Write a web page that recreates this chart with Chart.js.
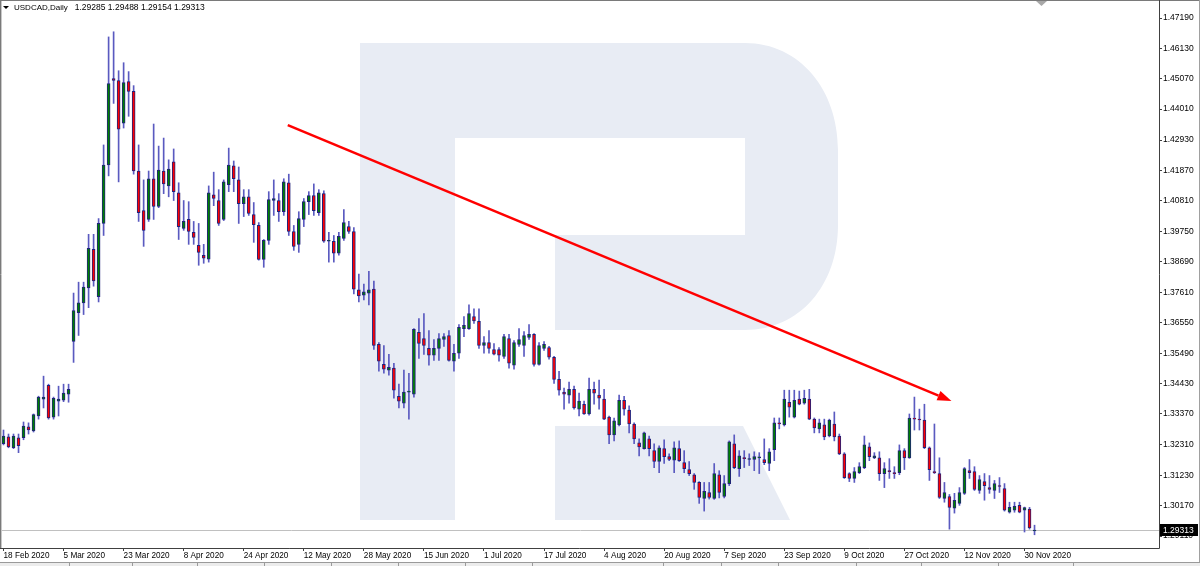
<!DOCTYPE html>
<html>
<head>
<meta charset="utf-8">
<title>USDCAD, Daily</title>
<script src="https://cdn.jsdelivr.net/npm/chart.js@4.4.0/dist/chart.umd.min.js"></script>
<style>
  html, body { margin: 0; padding: 0; background: #fff; }
  #wrap { position: relative; width: 1200px; height: 566px; overflow: hidden; }
</style>
</head>
<body>
<div id="wrap"><canvas id="chart" width="1200" height="566"></canvas></div>
<script>
// ---- data (daily candles, one per weekday from 18 Feb 2020) ----
const firstDay = [2020, 1, 18];

const opens = [
  1.3233, 1.3257, 1.3219, 1.3254, 1.3254, 1.3292, 1.3278, 1.3330, 1.3389, 1.3437,
  1.3326, 1.3382, 1.3385, 1.3406, 1.3590, 1.3691, 1.3725, 1.3777, 1.3912, 1.3746,
  1.4002, 1.4206, 1.4508, 1.4501, 1.4352, 1.4497, 1.4463, 1.4185, 1.4047, 1.4016,
  1.4158, 1.4061, 1.4185, 1.4133, 1.4217, 1.4109, 1.3985, 1.4016, 1.3971, 1.3926,
  1.3891, 1.3877, 1.4102, 1.4082, 1.4016, 1.4137, 1.4203, 1.4154, 1.4071, 1.4095,
  1.4033, 1.3995, 1.3876, 1.3943, 1.4082, 1.4082, 1.4043, 1.4144, 1.3974, 1.3929,
  1.4016, 1.4078, 1.4099, 1.4040, 1.4106, 1.3940, 1.3940, 1.3898, 1.3950, 1.3991,
  1.3974, 1.3770, 1.3752, 1.3759, 1.3773, 1.3580, 1.3510, 1.3490, 1.3497, 1.3399,
  1.3375, 1.3413, 1.3406, 1.3622, 1.3600, 1.3566, 1.3542, 1.3566, 1.3597, 1.3611,
  1.3521, 1.3549, 1.3635, 1.3635, 1.3677, 1.3660, 1.3576, 1.3586, 1.3562, 1.3562,
  1.3538, 1.3600, 1.3507, 1.3580, 1.3576, 1.3604, 1.3615, 1.3510, 1.3566, 1.3569,
  1.3535, 1.3458, 1.3413, 1.3403, 1.3423, 1.3354, 1.3371, 1.3337, 1.3423, 1.3403,
  1.3389, 1.3326, 1.3264, 1.3299, 1.3385, 1.3351, 1.3302, 1.3236, 1.3216, 1.3250,
  1.3209, 1.3171, 1.3216, 1.3188, 1.3176, 1.3216, 1.3167, 1.3143, 1.3125, 1.3098,
  1.3042, 1.3063, 1.3042, 1.3125, 1.3049, 1.3094, 1.3233, 1.3146, 1.3184, 1.3178,
  1.3178, 1.3184, 1.3178, 1.3164, 1.3212, 1.3306, 1.3299, 1.3378, 1.3326, 1.3389,
  1.3375, 1.3389, 1.3319, 1.3285, 1.3299, 1.3260, 1.3302, 1.3260, 1.3198, 1.3129,
  1.3112, 1.3132, 1.3150, 1.3222, 1.3184, 1.3184, 1.3129, 1.3139, 1.3132, 1.3132,
  1.3209, 1.3184, 1.3323, 1.3319, 1.3316, 1.3219, 1.3136, 1.3129, 1.3042, 1.3049,
  1.3008, 1.3025, 1.3060, 1.3139, 1.3136, 1.3070, 1.3101, 1.3080, 1.3070, 1.3087,
  1.3077, 1.2994, 1.3001, 1.3018, 1.3001, 1.3005, 1.29285
];
const highs = [
  1.3281, 1.3267, 1.3267, 1.3267, 1.3309, 1.3306, 1.3337, 1.3399, 1.3469, 1.3441,
  1.3396, 1.3434, 1.3441, 1.3441, 1.3759, 1.3797, 1.3797, 1.3964, 1.3964, 1.4019,
  1.4276, 1.4653, 1.4671, 1.4535, 1.4563, 1.4532, 1.4483, 1.4276, 1.4154, 1.4185,
  1.4349, 1.4272, 1.4300, 1.4224, 1.4262, 1.4144, 1.4082, 1.4078, 1.4009, 1.4002,
  1.3929, 1.4133, 1.4181, 1.4120, 1.4154, 1.4265, 1.4220, 1.4199, 1.4120, 1.4120,
  1.4075, 1.4005, 1.3946, 1.4113, 1.4154, 1.4106, 1.4158, 1.4174, 1.3995, 1.4043,
  1.4089, 1.4113, 1.4140, 1.4120, 1.4116, 1.3971, 1.3960, 1.3971, 1.4050, 1.4009,
  1.3988, 1.3825, 1.3790, 1.3835, 1.3801, 1.3586, 1.3576, 1.3545, 1.3514, 1.3441,
  1.3490, 1.3479, 1.3635, 1.3670, 1.3687, 1.3628, 1.3597, 1.3618, 1.3618, 1.3628,
  1.3580, 1.3649, 1.3677, 1.3718, 1.3704, 1.3704, 1.3607, 1.3628, 1.3583, 1.3569,
  1.3615, 1.3615, 1.3593, 1.3635, 1.3625, 1.3649, 1.3618, 1.3586, 1.3590, 1.3573,
  1.3538, 1.3486, 1.3427, 1.3448, 1.3434, 1.3410, 1.3382, 1.3462, 1.3448, 1.3455,
  1.3423, 1.3330, 1.3323, 1.3403, 1.3399, 1.3365, 1.3306, 1.3250, 1.3274, 1.3260,
  1.3233, 1.3226, 1.3247, 1.3198, 1.3240, 1.3243, 1.3209, 1.3171, 1.3129, 1.3101,
  1.3098, 1.3098, 1.3164, 1.3139, 1.3122, 1.3243, 1.3264, 1.3209, 1.3209, 1.3198,
  1.3205, 1.3202, 1.3250, 1.3216, 1.3323, 1.3323, 1.3420, 1.3420, 1.3420, 1.3417,
  1.3420, 1.3423, 1.3323, 1.3319, 1.3319, 1.3319, 1.3344, 1.3267, 1.3202, 1.3132,
  1.3150, 1.3167, 1.3260, 1.3236, 1.3202, 1.3205, 1.3167, 1.3181, 1.3153, 1.3229,
  1.3216, 1.3337, 1.3396, 1.3354, 1.3371, 1.3222, 1.3302, 1.3184, 1.3098, 1.3056,
  1.3060, 1.3080, 1.3150, 1.3178, 1.3153, 1.3122, 1.3129, 1.3122, 1.3105, 1.3115,
  1.3094, 1.3029, 1.3029, 1.3029, 1.3012, 1.3011, 1.29488
];
const lows = [
  1.3229, 1.3219, 1.3216, 1.3202, 1.3247, 1.3267, 1.3274, 1.3319, 1.3358, 1.3319,
  1.3319, 1.3330, 1.3380, 1.3378, 1.3517, 1.3611, 1.3684, 1.3708, 1.3783, 1.3728,
  1.3960, 1.4168, 1.4421, 1.4147, 1.4335, 1.4376, 1.4174, 1.4009, 1.3922, 1.4009,
  1.4016, 1.4057, 1.4106, 1.4095, 1.4082, 1.3946, 1.3978, 1.3929, 1.3929, 1.3856,
  1.3863, 1.3867, 1.4064, 1.3995, 1.4012, 1.4113, 1.4113, 1.4002, 1.4026, 1.4030,
  1.3936, 1.3874, 1.3849, 1.3929, 1.4030, 1.4009, 1.4030, 1.3960, 1.3908, 1.3901,
  1.3991, 1.4033, 1.4030, 1.4030, 1.3936, 1.3867, 1.3867, 1.3891, 1.3943, 1.3967,
  1.3756, 1.3728, 1.3735, 1.3718, 1.3562, 1.3486, 1.3479, 1.3472, 1.3392, 1.3358,
  1.3358, 1.3319, 1.3396, 1.3531, 1.3545, 1.3507, 1.3524, 1.3524, 1.3573, 1.3521,
  1.3486, 1.3531, 1.3607, 1.3632, 1.3653, 1.3566, 1.3549, 1.3549, 1.3543, 1.3521,
  1.3531, 1.3497, 1.3493, 1.3573, 1.3538, 1.3597, 1.3504, 1.3507, 1.3559, 1.3528,
  1.3444, 1.3403, 1.3354, 1.3375, 1.3354, 1.3330, 1.3335, 1.3333, 1.3371, 1.3354,
  1.3317, 1.3233, 1.3243, 1.3295, 1.3333, 1.3271, 1.3233, 1.3191, 1.3214, 1.3191,
  1.3150, 1.3132, 1.3164, 1.3174, 1.3132, 1.3171, 1.3132, 1.3122, 1.3074, 1.3025,
  1.2998, 1.3040, 1.3039, 1.3044, 1.3044, 1.3087, 1.3146, 1.3119, 1.3150, 1.3157,
  1.3139, 1.3129, 1.3160, 1.3139, 1.3174, 1.3285, 1.3295, 1.3326, 1.3323, 1.3369,
  1.3371, 1.3317, 1.3271, 1.3271, 1.3247, 1.3257, 1.3243, 1.3195, 1.3112, 1.3101,
  1.3098, 1.3129, 1.3146, 1.3174, 1.3181, 1.3105, 1.3080, 1.3112, 1.3112, 1.3125,
  1.3143, 1.3182, 1.3281, 1.3281, 1.3216, 1.3105, 1.3129, 1.3042, 1.3029, 1.2935,
  1.2991, 1.3018, 1.3056, 1.3112, 1.3070, 1.3060, 1.3036, 1.3060, 1.3042, 1.3063,
  1.2998, 1.2991, 1.2994, 1.2992, 1.2925, 1.2935, 1.29154
];
const closes = [
  1.3260, 1.3222, 1.3260, 1.3226, 1.3295, 1.3281, 1.3335, 1.3396, 1.3396, 1.3323,
  1.3392, 1.3389, 1.3410, 1.3423, 1.3698, 1.3725, 1.3780, 1.3915, 1.3801, 1.4002,
  1.4206, 1.4490, 1.4501, 1.4331, 1.4494, 1.4463, 1.4185, 1.4040, 1.3978, 1.4158,
  1.4061, 1.4188, 1.4140, 1.4192, 1.4113, 1.3991, 1.4009, 1.3974, 1.3953, 1.3901,
  1.3881, 1.4109, 1.4089, 1.4002, 1.4147, 1.4206, 1.4158, 1.4071, 1.4095, 1.4037,
  1.3998, 1.3876, 1.3943, 1.4085, 1.4089, 1.4043, 1.4147, 1.3974, 1.3922, 1.4019,
  1.4078, 1.4099, 1.4047, 1.4109, 1.3940, 1.3943, 1.3898, 1.3957, 1.4005, 1.3974,
  1.3773, 1.3749, 1.3763, 1.3770, 1.3576, 1.3521, 1.3493, 1.3500, 1.3420, 1.3382,
  1.3413, 1.3417, 1.3632, 1.3583, 1.3576, 1.3542, 1.3566, 1.3600, 1.3607, 1.3524,
  1.3549, 1.3639, 1.3646, 1.3687, 1.3662, 1.3576, 1.3586, 1.3566, 1.3546, 1.3542,
  1.3607, 1.3514, 1.3586, 1.3597, 1.3611, 1.3615, 1.3510, 1.3576, 1.3580, 1.3535,
  1.3458, 1.3420, 1.3406, 1.3423, 1.3358, 1.3382, 1.3337, 1.3423, 1.3410, 1.3392,
  1.3319, 1.3264, 1.3313, 1.3385, 1.3354, 1.3302, 1.3250, 1.3222, 1.3271, 1.3216,
  1.3171, 1.3219, 1.3188, 1.3178, 1.3219, 1.3174, 1.3146, 1.3129, 1.3098, 1.3046,
  1.3067, 1.3046, 1.3129, 1.3063, 1.3094, 1.3240, 1.3150, 1.3191, 1.3181, 1.3181,
  1.3188, 1.3186, 1.3167, 1.3205, 1.3306, 1.3302, 1.3389, 1.3361, 1.3385, 1.3371,
  1.3392, 1.3319, 1.3288, 1.3306, 1.3257, 1.3316, 1.3257, 1.3198, 1.3115, 1.3112,
  1.3136, 1.3153, 1.3229, 1.3188, 1.3191, 1.3129, 1.3146, 1.3136, 1.3129, 1.3209,
  1.3184, 1.3323, 1.3319, 1.3316, 1.3219, 1.3143, 1.3132, 1.3046, 1.3063, 1.3011,
  1.3036, 1.3063, 1.3146, 1.3132, 1.3074, 1.3108, 1.3087, 1.3074, 1.3094, 1.3084,
  1.3001, 1.3011, 1.3015, 1.2994, 1.3010, 1.2939, 1.29313
];

// price scale labels on the right
const priceTicks = [
  1.47190, 1.46130, 1.45070, 1.44010, 1.42930, 1.41870, 1.40810, 1.39750, 1.38690,
  1.37610, 1.36550, 1.35490, 1.34430, 1.33370, 1.32310, 1.31230, 1.30170, 1.29110
];
// a date label every 12 bars
const dateTickBars = [0, 12, 24, 36, 48, 60, 72, 84, 96, 108, 120, 132, 144, 156, 168, 180, 192, 204];

// hand-drawn trend arrow: [bar, price] start and end
const trendFrom = [56.8, 1.4345];
const trendTo = [189.4, 1.3382];

const symbolName = "USDCAD,Daily";

// ---- build dates (weekdays only) ----
const monthNames = ["Jan", "Feb", "Mar", "Apr", "May", "Jun", "Jul", "Aug", "Sep", "Oct", "Nov", "Dec"];
const dates = [];
const day = new Date(Date.UTC(firstDay[0], firstDay[1], firstDay[2]));
while (dates.length < opens.length) {
  const wd = day.getUTCDay();
  if (wd !== 0 && wd !== 6) {
    dates.push(day.getUTCDate() + " " + monthNames[day.getUTCMonth()] + " " + day.getUTCFullYear());
  }
  day.setUTCDate(day.getUTCDate() + 1);
}

const bodyData = opens.map((o, i) => ({ x: i, y: [o, closes[i]] }));
const wickData = opens.map((o, i) => ({ x: i, y: [lows[i], highs[i]] }));
const bodyColors = opens.map((o, i) => (closes[i] > o ? "#008000" : "#ff0000"));

const last = opens.length - 1;
const fmt = v => v.toFixed(5);
const fontFamily = "Liberation Sans, Arial, sans-serif";
const axisFont = { family: fontFamily, size: 8.5 };

// ---- extras drawn on the canvas (watermark, price line, arrow, frame) ----
const chartDecor = {
  id: "chartDecor",
  beforeDatasetsDraw(chart) {
    const { ctx, chartArea: a, scales } = chart;
    ctx.save();
    ctx.beginPath();
    ctx.rect(a.left, a.top, a.right - a.left, a.bottom - a.top);
    ctx.clip();

    // watermark "R"
    ctx.fillStyle = "#e8ecf4";
    ctx.fillRect(360, 43, 95, 477);
    ctx.beginPath();
    ctx.moveTo(455, 43);
    ctx.lineTo(745, 43);
    ctx.bezierCurveTo(800, 43, 838, 90, 838, 150);
    ctx.lineTo(838, 225);
    ctx.bezierCurveTo(838, 285, 800, 330, 745, 330);
    ctx.lineTo(555, 330);
    ctx.lineTo(555, 235);
    ctx.lineTo(745, 235);
    ctx.lineTo(745, 138);
    ctx.lineTo(455, 138);
    ctx.closePath();
    ctx.fill();
    ctx.beginPath();
    ctx.moveTo(555, 426);
    ctx.lineTo(743, 426);
    ctx.lineTo(790, 520);
    ctx.lineTo(555, 520);
    ctx.closePath();
    ctx.fill();

    // current price line
    const py = Math.round(scales.y.getPixelForValue(closes[last])) + 0.5;
    ctx.strokeStyle = "#c0c0c0";
    ctx.lineWidth = 1;
    ctx.beginPath();
    ctx.moveTo(a.left, py);
    ctx.lineTo(a.right, py);
    ctx.stroke();
    ctx.restore();
  },
  afterDatasetsDraw(chart) {
    const { ctx, scales } = chart;
    const x = scales.x, y = scales.y;

    // trend arrow
    const x1 = x.getPixelForValue(trendFrom[0]), y1 = y.getPixelForValue(trendFrom[1]);
    const x2 = x.getPixelForValue(trendTo[0]), y2 = y.getPixelForValue(trendTo[1]);
    const ang = Math.atan2(y2 - y1, x2 - x1);
    const head = 14, half = 5;
    const bx = x2 - head * Math.cos(ang), by = y2 - head * Math.sin(ang);
    ctx.save();
    ctx.strokeStyle = "#ff0000";
    ctx.fillStyle = "#ff0000";
    ctx.lineWidth = 2.5;
    ctx.beginPath();
    ctx.moveTo(x1, y1);
    ctx.lineTo(bx, by);
    ctx.stroke();
    ctx.beginPath();
    ctx.moveTo(x2, y2);
    ctx.lineTo(bx + half * Math.sin(ang), by - half * Math.cos(ang));
    ctx.lineTo(bx - half * Math.sin(ang), by + half * Math.cos(ang));
    ctx.closePath();
    ctx.fill();
    ctx.restore();
  },
  afterDraw(chart) {
    const { ctx, chartArea: a, scales } = chart;
    ctx.save();

    // frame
    ctx.strokeStyle = "#7a7a7a";
    ctx.lineWidth = 1;
    ctx.beginPath();
    ctx.moveTo(0.5, 0);
    ctx.lineTo(0.5, a.bottom + 0.5);
    ctx.moveTo(0, 0.5);
    ctx.lineTo(1200, 0.5);
    ctx.stroke();
    ctx.strokeStyle = "#c8c8c8";
    ctx.beginPath();
    ctx.moveTo(1.5, 1);
    ctx.lineTo(1.5, a.bottom);
    ctx.stroke();
    ctx.strokeStyle = "#404040";
    ctx.beginPath();
    ctx.moveTo(a.right + 0.5, 0);
    ctx.lineTo(a.right + 0.5, a.bottom + 0.5);
    ctx.lineTo(0, a.bottom + 0.5);
    ctx.stroke();
    ctx.strokeStyle = "#a0a0a0";
    ctx.beginPath();
    ctx.moveTo(1199.5, 0);
    ctx.lineTo(1199.5, 566);
    ctx.stroke();

    // tab strip at the very bottom
    ctx.fillStyle = "#ececec";
    ctx.fillRect(0, 563, 1200, 3);
    ctx.strokeStyle = "#9a9a9a";
    ctx.beginPath();
    ctx.moveTo(0, 562.5);
    ctx.lineTo(1200, 562.5);
    [69, 132, 197, 264, 331, 398, 465, 532, 663, 721, 778, 856, 921, 998, 1073].forEach(sx => {
      ctx.moveTo(sx + 0.5, 563);
      ctx.lineTo(sx + 0.5, 566);
    });
    ctx.stroke();

    // chart shift marker
    ctx.fillStyle = "#a8a8a8";
    ctx.beginPath();
    ctx.moveTo(1036, 1);
    ctx.lineTo(1047, 1);
    ctx.lineTo(1041.5, 6);
    ctx.closePath();
    ctx.fill();

    // current price box on the scale
    const py = Math.round(scales.y.getPixelForValue(closes[last]));
    ctx.fillStyle = "#000";
    ctx.fillRect(a.right + 1, py - 6, 38, 12);
    ctx.fillStyle = "#fff";
    ctx.font = "8.5px " + fontFamily;
    ctx.textBaseline = "middle";
    ctx.textAlign = "left";
    ctx.fillText(fmt(closes[last]), a.right + 4, py + 0.5);

    // header: symbol and last bar OHLC
    ctx.fillStyle = "#000";
    ctx.beginPath();
    ctx.moveTo(3, 6);
    ctx.lineTo(9, 6);
    ctx.lineTo(6, 9);
    ctx.closePath();
    ctx.fill();
    ctx.font = "8px " + fontFamily;
    ctx.fillText(symbolName, 14, 8);
    const nx = 14 + ctx.measureText(symbolName).width + 7;
    ctx.font = "8.5px " + fontFamily;
    ctx.fillText([opens[last], highs[last], lows[last], closes[last]].map(fmt).join(" "), nx, 8);
    ctx.restore();
  },
};

new Chart(document.getElementById("chart"), {
  type: "bar",
  data: {
    datasets: [
      {
        label: "body",
        data: bodyData,
        backgroundColor: bodyColors,
        borderColor: "#20207a",
        borderWidth: 1,
        borderSkipped: false,
        barThickness: 3,
        minBarLength: 1,
        grouped: false,
        order: 0,
      },
      {
        label: "wick",
        data: wickData,
        backgroundColor: "#5a5ac0",
        borderWidth: 0,
        barThickness: 1,
        grouped: false,
        order: 1,
      },
    ],
  },
  options: {
    responsive: false,
    animation: false,
    events: [],
    layout: { padding: { left: 2, top: 2, right: 0, bottom: 0 } },
    plugins: { legend: { display: false }, tooltip: { enabled: false } },
    scales: {
      x: {
        type: "linear",
        min: -0.3,
        max: 230.87,
        offset: false,
        afterBuildTicks: s => { s.ticks = dateTickBars.map(v => ({ value: v })); },
        afterFit: s => { s.height = 18; },
        ticks: {
          autoSkip: false,
          maxRotation: 0,
          align: "start",
          padding: 0,
          color: "#000",
          font: { family: fontFamily, size: 8.2 },
          callback: v => dates[v] || "",
        },
        grid: { drawOnChartArea: false, drawTicks: true, tickLength: 3, color: "#404040", offset: false },
        border: { display: false },
      },
      y: {
        type: "linear",
        position: "right",
        min: 1.28692,
        max: 1.47606,
        afterBuildTicks: s => { s.ticks = priceTicks.map(v => ({ value: v })); },
        afterFit: s => { s.width = 41; },
        ticks: { padding: 1, color: "#000", font: axisFont, callback: v => fmt(v) },
        grid: { drawOnChartArea: false, drawTicks: true, tickLength: 3, color: "#404040" },
        border: { display: false },
      },
    },
  },
  plugins: [chartDecor],
});
</script>
</body>
</html>
